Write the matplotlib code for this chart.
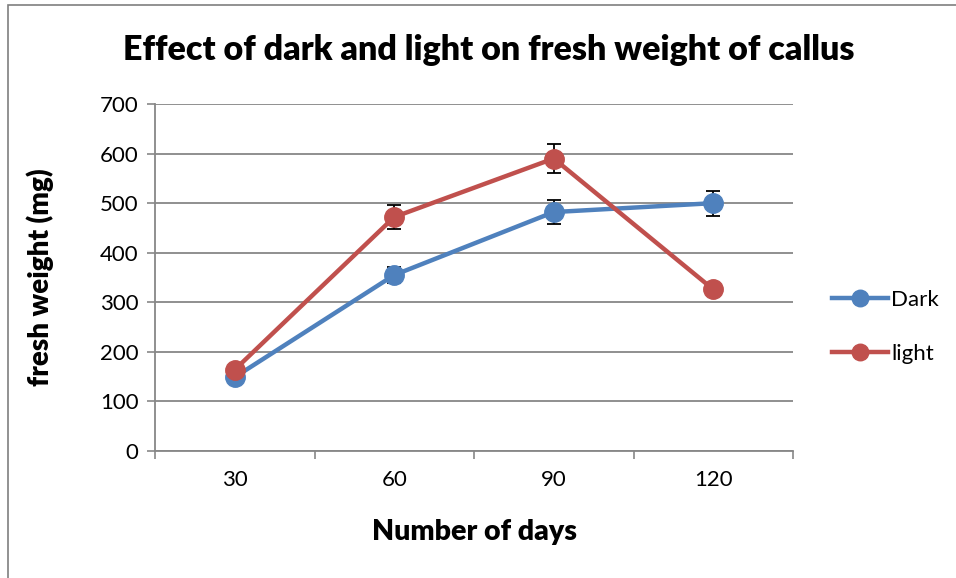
import matplotlib

matplotlib.use("Agg")
import matplotlib.pyplot as plt
from matplotlib.patches import Rectangle

plt.rcParams.update({"font.family": ["Lato", "DejaVu Sans"], "font.size": 16})

days = [30, 60, 90, 120]
dark = [149, 355, 482, 500]
dark_err = [8, 16, 24, 25]
light = [164, 472, 590, 326]
light_err = [8, 24, 29, 8]

BLUE = "#4F81BD"
RED = "#C0504D"
GRID = "#878787"

fig = plt.figure(figsize=(9.56, 5.78), dpi=100)
fig.patches.append(Rectangle((8 / 956, -0.1), 1.2, 1 - 5 / 578 + 0.1,
                             transform=fig.transFigure, fill=False,
                             edgecolor="#7f7f7f", lw=1.2))
ax = fig.add_axes([155 / 956, 127 / 578, 638 / 956, 347 / 578])

x = range(len(days))
for vals, err, col, lab in [(dark, dark_err, BLUE, "Dark"), (light, light_err, RED, "light")]:
    ax.errorbar(x, vals, yerr=err, color=col, lw=3.2, marker="o", ms=14,
                ecolor="black", elinewidth=1.3, capsize=5, capthick=1.3,
                label=lab, zorder=3)

ax.set_xlim(-0.5, len(days) - 0.5)
ax.set_ylim(0, 700)
ax.set_yticks(range(0, 701, 100))
ax.set_xticks(x, [str(d) for d in days])
ax.set_xticks([i - 0.5 for i in range(len(days) + 1)], minor=True)
ax.tick_params(axis="x", which="major", length=0, pad=14, labelsize=16)
ax.tick_params(axis="x", which="minor", length=6, color=GRID, width=1.2)
ax.tick_params(axis="y", length=6, color=GRID, width=1.2, pad=6, labelsize=16)
ax.grid(axis="y", color=GRID, lw=1.3)
ax.set_axisbelow(True)
for s in ["top", "right"]:
    ax.spines[s].set_visible(False)
for s in ["left", "bottom"]:
    ax.spines[s].set_color(GRID)
    ax.spines[s].set_linewidth(1.3)

ax.set_xlabel("Number of days", fontsize=20.5, fontweight="heavy")
ax.set_ylabel("fresh weight (mg)", fontsize=20, fontweight="heavy")
ax.xaxis.set_label_coords(0.5, -0.196)
ax.yaxis.set_label_coords(-0.158, 0.5)
fig.text(489 / 956, 1 - 50 / 578, "Effect of dark and light on fresh weight of callus",
         ha="center", va="center", fontsize=24.5, fontweight="heavy")

handles, labels = ax.get_legend_handles_labels()
handles = [h[0] for h in handles]
fig.legend(handles, labels, loc="center left", bbox_to_anchor=(832 / 956, 1 - 327 / 578),
           frameon=False, fontsize=16, handlelength=2.5, handletextpad=0.15,
           labelspacing=1.55, markerscale=0.85, borderpad=0, borderaxespad=0)

fig.savefig("out.png", dpi=100)
